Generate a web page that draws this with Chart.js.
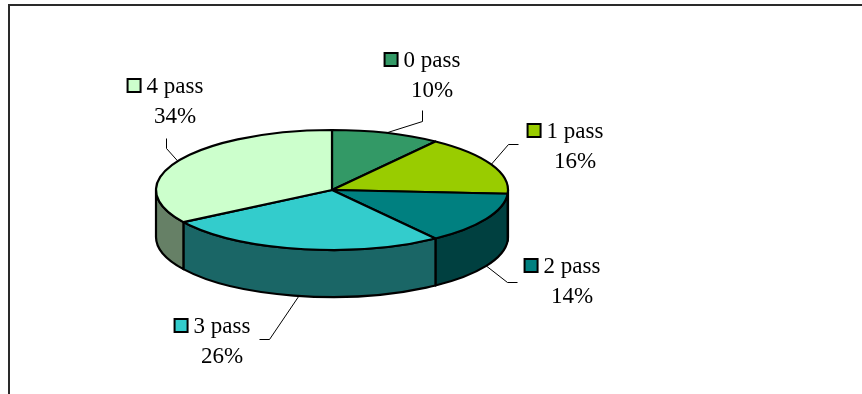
<!DOCTYPE html>
<html>
<head>
<meta charset="utf-8">
<script src="https://cdn.jsdelivr.net/npm/chart.js@4.4.1/dist/chart.umd.min.js"></script>
<style>
  html, body { margin: 0; padding: 0; background: #fff; }
  #wrap { width: 862px; height: 394px; position: relative; }
</style>
</head>
<body>
<div id="wrap"><canvas id="pie" width="862" height="394"></canvas></div>
<script>
// data
const passLabels = ['0 pass', '1 pass', '2 pass', '3 pass', '4 pass'];
const passShare = [10, 16, 14, 26, 34];

// look
const topColors = ['#339966', '#99CC00', '#008080', '#33CCCC', '#CCFFCC'];
const sideColors = ['#1A4D33', '#4D6600', '#004040', '#1A6666', '#668066'];
const TILT = 60 / 176;   // ry / rx of the top face
const DEPTH = 47;        // height of the side wall

// label layout: [centre x of the text, baseline of first line]
const labelPos = [[432, 67], [575, 138], [572, 273], [222, 333], [175, 93]];
// leader line: elbow point and end point near the label
const leaderElbow = [[422, 121], [508, 144], [507, 282], [269, 339], [166, 148]];
const leaderEnd = [[422, 110], [518, 144], [517, 282], [259, 339], [166, 138]];

const FONT = '23px "Liberation Serif", "Times New Roman", serif';

const frame = {
  id: 'frame',
  beforeDraw(chart) {
    const ctx = chart.ctx;
    ctx.save();
    ctx.fillStyle = '#fff';
    ctx.fillRect(0, 0, chart.width, chart.height);
    ctx.fillStyle = '#2a2a2a';
    ctx.fillRect(8, 4, chart.width - 8, 2);
    ctx.fillRect(8, 4, 2, chart.height - 4);
    ctx.restore();
  }
};

const pie3d = {
  id: 'pie3d',
  beforeDatasetsDraw(chart) {
    const ctx = chart.ctx;
    const arcs = chart.getDatasetMeta(0).data;
    if (!arcs.length) return false;
    const cx = arcs[0].x, cy = arcs[0].y;
    const rx = arcs[0].outerRadius, ry = rx * TILT;

    ctx.save();
    ctx.lineWidth = 2.2;
    ctx.lineJoin = 'round';
    ctx.strokeStyle = '#000';

    // front side walls
    arcs.forEach((a, i) => {
      const lo = Math.max(a.startAngle, 0);
      const hi = Math.min(a.endAngle, Math.PI);
      if (lo >= hi) return;
      ctx.beginPath();
      ctx.moveTo(cx + rx * Math.cos(lo), cy + ry * Math.sin(lo));
      ctx.ellipse(cx, cy, rx, ry, 0, lo, hi);
      ctx.lineTo(cx + rx * Math.cos(hi), cy + DEPTH + ry * Math.sin(hi));
      ctx.ellipse(cx, cy + DEPTH, rx, ry, 0, hi, lo, true);
      ctx.closePath();
      ctx.fillStyle = sideColors[i];
      ctx.fill();
      ctx.stroke();
    });

    // top face
    arcs.forEach((a, i) => {
      ctx.beginPath();
      ctx.moveTo(cx, cy);
      ctx.ellipse(cx, cy, rx, ry, 0, a.startAngle, a.endAngle);
      ctx.closePath();
      ctx.fillStyle = topColors[i];
      ctx.fill();
      ctx.stroke();
    });

    // leader lines
    ctx.lineWidth = 1;
    ctx.strokeStyle = '#000';
    arcs.forEach((a, i) => {
      const mid = (a.startAngle + a.endAngle) / 2;
      const s = Math.sin(mid);
      const ax = cx + rx * Math.cos(mid);
      const ay = cy + ry * s + (s > 0 ? DEPTH : 0);
      ctx.beginPath();
      ctx.moveTo(ax, ay);
      ctx.lineTo(leaderElbow[i][0] + 0.5, leaderElbow[i][1] + 0.5);
      ctx.lineTo(leaderEnd[i][0] + 0.5, leaderEnd[i][1] + 0.5);
      ctx.stroke();
    });

    // labels with legend key
    const total = passShare.reduce((p, v) => p + v, 0);
    ctx.font = FONT;
    ctx.fillStyle = '#000';
    ctx.textBaseline = 'alphabetic';
    passLabels.forEach((lab, i) => {
      const [tx, base] = labelPos[i];
      const w = ctx.measureText(lab).width;
      const left = tx - w / 2;
      ctx.textAlign = 'left';
      ctx.fillStyle = '#000';
      ctx.fillText(lab, left, base);
      // key square
      ctx.fillStyle = '#000';
      ctx.fillRect(left - 20, base - 15, 15, 15);
      ctx.fillStyle = topColors[i];
      ctx.fillRect(left - 18, base - 13, 11, 11);
      ctx.fillStyle = '#000';
      ctx.textAlign = 'center';
      const pct = Math.round(chart.data.datasets[0].data[i] / total * 100) + '%';
      ctx.fillText(pct, tx, base + 30);
    });

    ctx.restore();
    return false;
  }
};

new Chart(document.getElementById('pie'), {
  type: 'pie',
  data: {
    labels: passLabels,
    datasets: [{
      data: passShare,
      backgroundColor: topColors,
      borderWidth: 0
    }]
  },
  options: {
    responsive: false,
    animation: false,
    radius: 176,
    layout: { padding: { left: 156, right: 354, top: 14, bottom: 28 } },
    plugins: {
      legend: { display: false },
      tooltip: { enabled: false }
    }
  },
  plugins: [frame, pie3d]
});
</script>
</body>
</html>
